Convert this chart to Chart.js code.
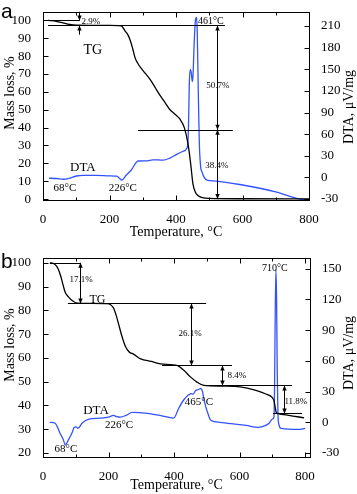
<!DOCTYPE html>
<html>
<head>
<meta charset="utf-8">
<script src="https://cdn.jsdelivr.net/npm/chart.js@4.4.0/dist/chart.umd.min.js"></script>
<style>
  html, body { margin: 0; padding: 0; background: #fff; }
  .wrap { position: relative; width: 357px; height: 494px; }
  .panel { position: absolute; left: 0; width: 357px; }
  #pa { top: 0; height: 246px; }
  #pb { top: 246px; height: 248px; }
</style>
</head>
<body>
<div class="wrap">
  <div class="panel" id="pa"><canvas id="chartA"></canvas></div>
  <div class="panel" id="pb"><canvas id="chartB"></canvas></div>
</div>
<script>
/* ---------- panel a data ---------- */
const tgTempA = [15, 40, 60, 80, 100, 200, 235, 247, 255, 262, 270, 277, 285, 292, 307, 322, 337, 352, 367, 382, 397, 412, 425, 436, 444, 451, 458, 466, 480, 500, 600, 800];
const tgMassA = [100, 99.5, 98.6, 97.7, 97.3, 97.2, 97, 94, 92, 89, 84, 79, 76, 74, 70.5, 67, 62.5, 58, 54, 50, 47.5, 44.7, 40, 31, 20, 8.5, 4, 2, 0.8, 0.4, 0.2, 0.1];
const dtaTempA = [18, 40, 62, 80, 100, 120, 160, 200, 222, 230, 237, 250, 265, 286, 312, 330, 361, 380, 402, 420, 433, 436, 438, 440, 443, 446, 449, 451, 455, 459, 462, 464, 467, 470, 474, 478, 485, 493, 520, 600, 700, 773, 800];
const dtaValA = [-1, -1.5, -2.5, -1, 2, 3, 3, 2.3, 1.7, -1, -3.6, 3, 10, 22.8, 23, 24.5, 24, 26.5, 32, 36, 41, 50, 80, 130, 150, 145, 133, 140, 190, 220, 222, 200, 120, 50, 15, 8, 0, -3.6, -5, -10.5, -20, -30, -31];

/* ---------- panel b data ---------- */
const tgTempB = [21, 35, 46, 55, 61, 68, 77, 90, 104, 150, 196, 215, 222, 230, 240, 251, 263, 276, 298, 330, 359, 390, 411, 430, 450, 470, 491, 550, 601, 650, 680, 700, 705, 709, 712, 717, 750, 797];
const tgMassB = [100, 99.5, 97.5, 94, 90.8, 87.5, 85.8, 84, 83, 82.9, 82.8, 81, 78.5, 74.6, 69.5, 65, 62.5, 61.6, 59.6, 58.5, 57.5, 57.1, 56.7, 54.8, 52, 49.8, 48.4, 48.1, 47.8, 46.3, 44.8, 43.3, 42, 39, 37, 36.6, 35.8, 34.8];
const dtaTempB = [21, 37, 52, 62, 68, 78, 89, 95, 101, 107, 119, 138, 175, 200, 215, 225, 236, 255, 272, 319, 360, 399, 414, 430, 441, 446, 451, 458, 466, 475, 482, 487, 491, 497, 503, 512, 540, 564, 620, 656, 680, 690, 700, 705, 707, 709, 711, 713, 715, 717, 720, 727, 779, 800];
const dtaValB = [0, -1, -10.7, -17, -22, -17, -10, -5, -4.5, -6, -1, 2.9, 4, 5, 6.7, 5.5, 5, 7, 9.6, 8.7, 6.5, 4, 13.5, 22, 26, 27, 28, 27.5, 31, 32, 33, 30, 23, 15, 9, 2, 0, -1, -3, -5, -3, -1, 3, 5, 40, 110, 149, 120, 50, 10, -2, -6, -7, -6];

/* ---------- axes ---------- */
const xTicks = [0, 200, 400, 600, 800];
const xMinorTicks = [0, 100, 200, 300, 400, 500, 600, 700, 800];
const massTicksA = [0, 10, 20, 30, 40, 50, 60, 70, 80, 90, 100];
const dtaTicksA = [-30, 0, 30, 60, 90, 120, 150, 180, 210];
const massTicksB = [20, 30, 40, 50, 60, 70, 80, 90, 100];
const dtaTicksB = [-30, 0, 30, 60, 90, 120, 150];

/* ---------- annotations (data units: temperature, mass %) ---------- */
const hLinesA = [[15, 111, 100], [15, 547, 97.2], [286, 571, 38.8]];
const arrowsA = [[108, 104.8, 100, 'end'], [108, 92, 97.2, 'end'], [523, 97.2, 38.8, 'both'], [523, 38.8, 0, 'both']];
const labelsA = [
  ['2.9%', 144, 99.3, 9], ['461°C', 505, 99.3, 10], ['50.7%', 526, 63.3, 9], ['38.4%', 523, 18.6, 9],
  ['TG', 150, 83, 14], ['DTA', 120, 17.6, 13], ['68°C', 66, 5.9, 11], ['226°C', 240, 5.9, 11]
];
const hLinesB = [[21, 113, 100], [76, 498, 82.9], [363, 577, 56.8], [489, 760, 48.4], [702, 791, 36.6]];
const arrowsB = [[113, 100, 82.9, 'both'], [452, 82.9, 56.8, 'both'], [547, 56.8, 48.4, 'both'], [736, 48.4, 36.6, 'both']];
const labelsB = [
  ['17.1%', 116, 92.9, 9], ['TG', 166, 84.6, 12], ['26.1%', 449, 70.4, 9], ['8.4%', 592, 52.5, 9],
  ['11.8%', 772, 41.7, 9], ['710°C', 708, 97.5, 10], ['465°C', 476, 41.3, 11], ['DTA', 162, 37.9, 13],
  ['226°C', 232, 31.7, 11], ['68°C', 70, 21.7, 11]
];

const SERIF = '"Liberation Serif", "Times New Roman", serif';
const BLUE = '#3352ff';

function pairs(xs, ys) { return xs.map((x, i) => ({ x: x, y: ys[i] })); }

function arrowHead(ctx, x, y, dir) {
  ctx.beginPath();
  ctx.moveTo(x, y);
  ctx.lineTo(x - 2.2, y - dir * 5);
  ctx.lineTo(x + 2.2, y - dir * 5);
  ctx.closePath();
  ctx.fill();
}

function marksPlugin(p) {
  return {
    id: 'marks',
    afterDraw(chart) {
      const { ctx, chartArea: a, scales } = chart;
      const x = scales.x, yl = scales.y, yr = scales.y1;
      ctx.save();
      ctx.strokeStyle = '#000';
      ctx.fillStyle = '#000';
      ctx.lineWidth = 1;
      const L = Math.round(a.left) + 0.5, R = Math.round(a.right) + 0.5;
      const T = Math.round(a.top) + 0.5, B = Math.round(a.bottom) + 0.5;
      ctx.strokeRect(L, T, R - L, B - T);

      // inward ticks
      ctx.beginPath();
      xMinorTicks.forEach(v => {
        if (v > x.max) return;
        const px = Math.round(x.getPixelForValue(v)) + 0.5;
        const len = xTicks.includes(v) ? 5 : 3;
        ctx.moveTo(px, B); ctx.lineTo(px, B - len);
        ctx.moveTo(px, T); ctx.lineTo(px, T + len);
      });
      p.leftTicks.forEach(v => {
        const py = Math.round(yl.getPixelForValue(v)) + 0.5;
        ctx.moveTo(L, py); ctx.lineTo(L + 5, py);
      });
      p.rightTicks.forEach(v => {
        const py = Math.round(yr.getPixelForValue(v)) + 0.5;
        ctx.moveTo(R, py); ctx.lineTo(R - 5, py);
      });
      ctx.stroke();

      // horizontal guide lines
      ctx.lineWidth = 1;
      ctx.beginPath();
      p.hLines.forEach(([x1, x2, yv]) => {
        const py = Math.round(yl.getPixelForValue(yv)) + 0.5;
        ctx.moveTo(x.getPixelForValue(x1), py);
        ctx.lineTo(x.getPixelForValue(x2), py);
      });
      ctx.stroke();

      // arrows
      p.arrows.forEach(([xv, y1, y2, mode]) => {
        const px = Math.round(x.getPixelForValue(xv)) + 0.5;
        const p1 = yl.getPixelForValue(y1), p2 = yl.getPixelForValue(y2);
        ctx.beginPath();
        ctx.moveTo(px, p1); ctx.lineTo(px, p2);
        ctx.stroke();
        const dir = p2 > p1 ? 1 : -1;
        arrowHead(ctx, px, p2, dir);
        if (mode === 'both') arrowHead(ctx, px, p1, -dir);
      });

      // text labels
      ctx.textAlign = 'center';
      ctx.textBaseline = 'middle';
      p.labels.forEach(([t, xv, yv, size]) => {
        ctx.font = size + 'px ' + SERIF;
        ctx.fillText(t, x.getPixelForValue(xv), yl.getPixelForValue(yv));
      });

      // axis titles
      ctx.font = '14px ' + SERIF;
      ctx.fillText('Temperature, °C', (a.left + a.right) / 2, p.xTitleY);
      ctx.save();
      ctx.translate(10, p.leftTitleY);
      ctx.rotate(-Math.PI / 2);
      ctx.fillText('Mass loss, %', 0, 0);
      ctx.restore();
      ctx.save();
      ctx.translate(349, p.rightTitleY);
      ctx.rotate(-Math.PI / 2);
      ctx.fillText('DTA, μV/mg', 0, 0);
      ctx.restore();

      // panel letter
      ctx.textAlign = 'left';
      ctx.textBaseline = 'alphabetic';
      ctx.font = '21px "Liberation Sans", Arial, sans-serif';
      ctx.fillText(p.letter, 1, p.letterY);
      ctx.restore();
    }
  };
}

function makeChart(id, p) {
  const tickFont = { family: SERIF, size: 13 };
  return new Chart(document.getElementById(id), {
    type: 'line',
    data: {
      datasets: [
        { label: 'TG', data: pairs(p.tgT, p.tgM), yAxisID: 'y', borderColor: '#000', borderWidth: 1.3, cubicInterpolationMode: 'monotone' },
        { label: 'DTA', data: pairs(p.dT, p.dV), yAxisID: 'y1', borderColor: BLUE, borderWidth: 1.3, cubicInterpolationMode: 'monotone' }
      ]
    },
    options: {
      responsive: true, maintainAspectRatio: false, animation: false,
      layout: { padding: { top: p.padTop, left: 0, right: 0, bottom: 0 } },
      elements: { point: { radius: 0 } },
      plugins: { legend: { display: false }, tooltip: { enabled: false } },
      scales: {
        x: {
          type: 'linear', min: 0, max: p.xMax,
          afterBuildTicks: s => { s.ticks = xTicks.map(v => ({ value: v })); },
          afterFit: s => { s.height = p.xH; },
          grid: { display: false }, border: { display: false },
          ticks: { font: tickFont, color: '#000', padding: 4, maxRotation: 0, autoSkip: false }
        },
        y: {
          position: 'left', min: p.yMin, max: p.yMax,
          afterBuildTicks: s => { s.ticks = p.leftTicks.map(v => ({ value: v })); },
          afterFit: s => { s.width = 43; },
          grid: { display: false }, border: { display: false },
          ticks: { font: tickFont, color: '#000', padding: 4 }
        },
        y1: {
          position: 'right', min: p.y1Min, max: p.y1Max,
          afterBuildTicks: s => { s.ticks = p.rightTicks.map(v => ({ value: v })); },
          afterFit: s => { s.width = p.rightW; },
          grid: { display: false }, border: { display: false },
          ticks: { font: tickFont, color: '#000', padding: 4 }
        }
      }
    },
    plugins: [marksPlugin(p)]
  });
}

makeChart('chartA', {
  tgT: tgTempA, tgM: tgMassA, dT: dtaTempA, dV: dtaValA,
  xMax: 800, yMin: -0.5, yMax: 104.8, y1Min: -31.3, y1Max: 229.8,
  padTop: 2, xH: 46, rightW: 48,
  leftTicks: massTicksA, rightTicks: dtaTicksA,
  hLines: hLinesA, arrows: arrowsA, labels: labelsA,
  xTitleY: 232, leftTitleY: 93, rightTitleY: 107, letter: 'a', letterY: 18
});

makeChart('chartB', {
  tgT: tgTempB, tgM: tgMassB, dT: dtaTempB, dV: dtaValB,
  xMax: 815, yMin: 18.3, yMax: 102.1, y1Min: -33.9, y1Max: 160.6,
  padTop: 10, xH: 37, rightW: 47,
  leftTicks: massTicksB, rightTicks: dtaTicksB,
  hLines: hLinesB, arrows: arrowsB, labels: labelsB,
  xTitleY: 239, leftTitleY: 99, rightTitleY: 107, letter: 'b', letterY: 22
});
</script>
</body>
</html>
